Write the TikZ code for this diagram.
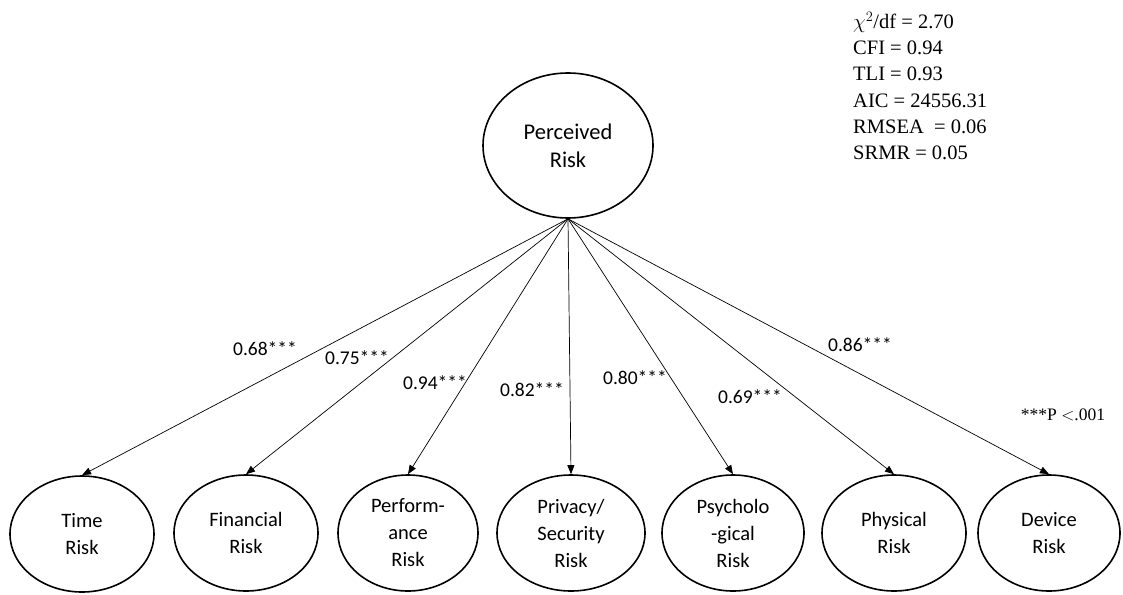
\documentclass[tikz,border=0pt]{standalone}
\usepackage{fontspec}
\setmainfont{Carlito}
\newfontfamily\statfont{Liberation Serif}
\usetikzlibrary{shapes.geometric,arrows.meta}
\tikzset{
  latent/.style={ellipse,draw,line width=1.6pt,inner sep=0pt,align=center,
    font=\fontsize{22.5}{28}\selectfont},
  small/.style={latent,minimum width=144pt,minimum height=116pt,
    font=\fontsize{20.5}{27}\selectfont},
  path/.style={line width=0.7pt,-{Triangle[length=9pt,width=7pt]}},
  coef/.style={font=\fontsize{19.5}{22}\selectfont,inner sep=0pt},
  stat/.style={font=\statfont\fontsize{20.5}{24}\selectfont,inner sep=0pt,anchor=base west}
}
\begin{document}
\begin{tikzpicture}[x=1pt,y=-1pt]
\useasboundingbox (0,0) rectangle (1123,594);
\node[latent,minimum width=170pt,minimum height=145pt] (pr) at (568,145.5) {Perceived\\Risk};
\node[small] (t) at (82,534) {Time\\Risk};
\node[small] (f) at (246,533) {Financial\\Risk};
\node[small,minimum width=140pt] (pe) at (408,533) {Perform-\\ance\\Risk};
\node[small,minimum width=148pt] (pv) at (571,533) {Privacy/\\Security\\Risk};
\node[small,minimum width=142pt] (ps) at (733,533) {Psycholo\\-gical\\Risk};
\node[small] (ph) at (894,533) {Physical\\Risk};
\node[small,minimum width=142pt] (d) at (1049,533) {Device\\Risk};
\foreach \n in {t,f,pe,pv,ps,ph,d} \draw[path] (pr.south) -- (\n.north);
\node[coef] (c1) at (265,349) {0.68***};
\node[coef] (c2) at (357,358) {0.75***};
\node[coef] (c3) at (435,383) {0.94***};
\node[coef] (c4) at (532,390) {0.82***};
\node[coef] (c5) at (635,378) {0.80***};
\node[coef] (c6) at (750,397) {0.69***};
\node[coef] (c7) at (860,345) {0.86***};
\node[inner sep=0pt,font=\statfont\fontsize{17.5}{20}\selectfont] (p) at (1063,415) {***P ${<}$.001};
\node[stat] (s1) at (853,29) {$\chi^2$/df = 2.70};
\node[stat] (s2) at (853,55) {CFI = 0.94};
\node[stat] (s3) at (853,81) {TLI = 0.93};
\node[stat] (s4) at (853,107) {AIC = 24556.31};
\node[stat] (s5) at (853,133) {RMSEA\ \ = 0.06};
\node[stat] (s6) at (853,159) {SRMR = 0.05};
\end{tikzpicture}
\end{document}
